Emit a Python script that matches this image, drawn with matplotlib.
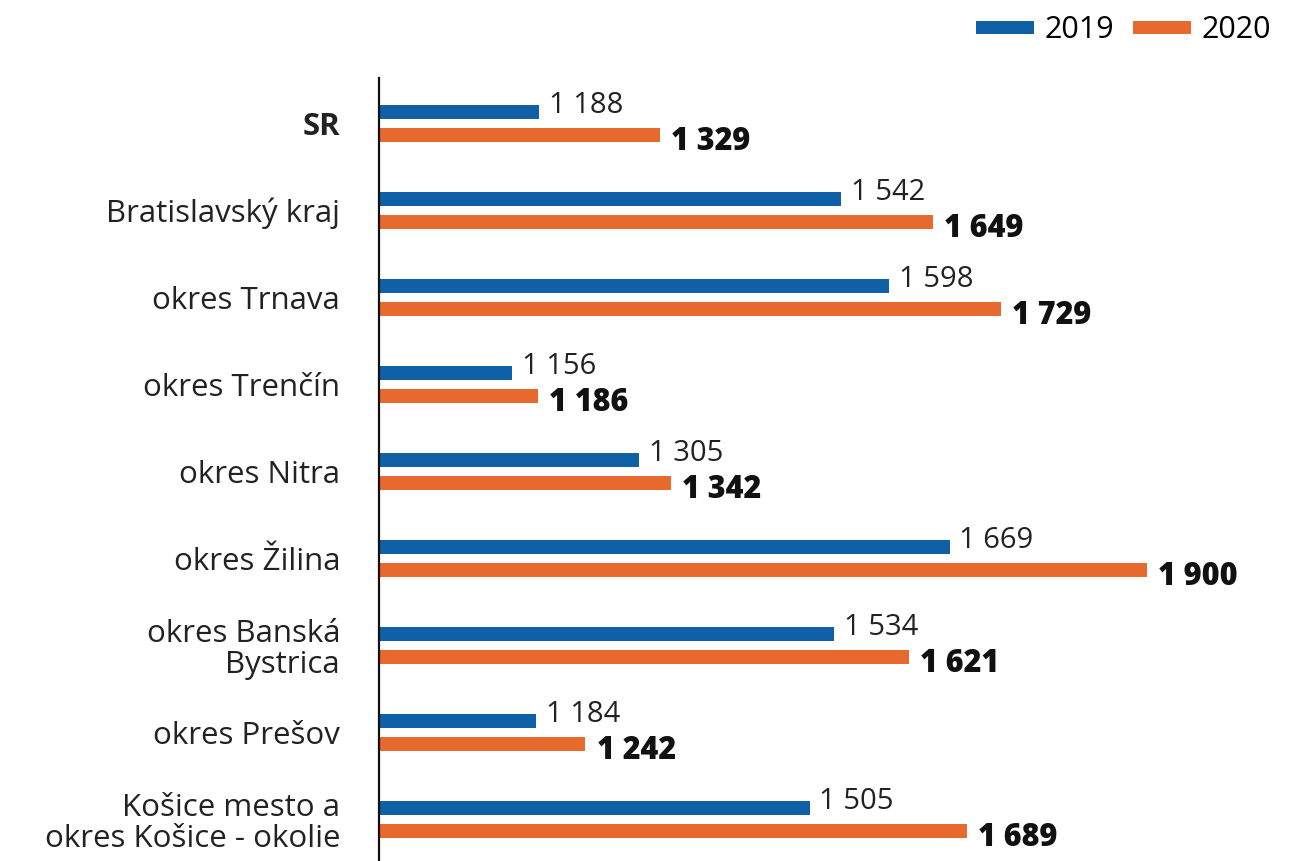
import matplotlib
matplotlib.use('Agg')
import matplotlib.pyplot as plt
import numpy as np

categories = ['SR', 'Bratislavský kraj', 'okres Trnava', 'okres Trenčín', 'okres Nitra',
              'okres Žilina', 'okres Banská\nBystrica', 'okres Prešov',
              'Košice mesto a\nokres Košice - okolie']
values_2019 = [1188, 1542, 1598, 1156, 1305, 1669, 1534, 1184, 1505]
values_2020 = [1329, 1649, 1729, 1186, 1342, 1900, 1621, 1242, 1689]

BLUE = '#1060A8'
ORANGE = '#E8692E'

plt.rcParams['font.family'] = ['Open Sans', 'DejaVu Sans']


def fmt(v):
    return f'{v:,}'.replace(',', ' ')


fig = plt.figure(figsize=(12.89, 8.61), dpi=100)
ax = fig.add_axes([379 / 1289, 0, 870 / 1289, 783 / 861])

y = np.arange(len(categories))
off = 0.132
h = 0.16
base = 1000
ax.barh(y - off, np.array(values_2019) - base, left=base, height=h, color=BLUE, label='2019')
ax.barh(y + off, np.array(values_2020) - base, left=base, height=h, color=ORANGE, label='2020')

for i, (a, b) in enumerate(zip(values_2019, values_2020)):
    ax.annotate(fmt(a), (a, y[i] - off), xytext=(7, 4.5), textcoords='offset points',
                va='center', ha='left', fontsize=21, color='#222222')
    ax.annotate(fmt(b), (b, y[i] + off), xytext=(8, -5), textcoords='offset points',
                va='center', ha='left', fontsize=22, fontweight='heavy', color='#111111')

ax.set_xlim(1000, 2020)
ax.set_ylim(8.48, -0.52)
ax.set_yticks(y)
ax.set_yticklabels(categories, fontsize=22.5, color='#222222', linespacing=1.05)
ax.get_yticklabels()[0].set_fontweight('bold')
ax.tick_params(axis='y', length=0, pad=28)
ax.set_xticks([])
for s in ['top', 'right', 'bottom']:
    ax.spines[s].set_visible(False)
ax.spines['left'].set_linewidth(1.6)
ax.spines['left'].set_color('#111111')
for lbl in ax.get_yticklabels():
    lbl.set_multialignment('right')

leg = fig.legend(loc='upper right', bbox_to_anchor=(0.998, 1.0), ncol=2, frameon=False,
                 fontsize=22, handlelength=1.9, handleheight=0.3, columnspacing=0.6,
                 handletextpad=0.35, borderaxespad=0.1)

fig.savefig('out.png', dpi=100)
